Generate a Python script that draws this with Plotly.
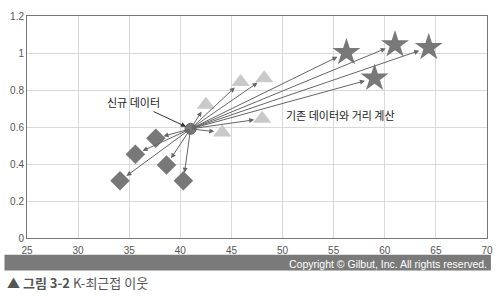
import plotly.graph_objects as go

# Data
new_point = (41.0, 0.59)
diamond_x = [34.1, 35.6, 37.6, 38.65, 40.3]
diamond_y = [0.31, 0.453, 0.539, 0.395, 0.31]
triangle_x = [42.5, 44.1, 45.9, 48.2, 48.0]
triangle_y = [0.72, 0.57, 0.843, 0.864, 0.645]
star_x = [56.25, 61.0, 64.3, 59.0]
star_y = [1.003, 1.045, 1.03, 0.864]
x_ticks = [25, 30, 35, 40, 45, 50, 55, 60, 65, 70]
y_ticks = [0, 0.2, 0.4, 0.6, 0.8, 1.0, 1.2]
y_ticklabels = ["0", "0.2", "0.4", "0.6", "0.8", "1", "1.2"]

W, H = 503, 299
L, R, T, B = 23, 10, 13, 61
PW, PH = W - L - R, H - T - B

def px(x):
    return (x - L) / PW

def py(y):
    return (H - B - y) / PH

fig = go.Figure()

fig.add_trace(go.Scatter(x=diamond_x, y=diamond_y, mode="markers",
                         marker=dict(symbol="diamond", size=15, color="#787878"),
                         showlegend=False, hoverinfo="skip"))
fig.add_trace(go.Scatter(x=triangle_x, y=triangle_y, mode="markers",
                         marker=dict(symbol="triangle-up", size=16, color="#c9c9c9"),
                         showlegend=False, hoverinfo="skip"))
fig.add_trace(go.Scatter(x=star_x, y=star_y, mode="markers",
                         marker=dict(symbol="star", size=21, color="#787878"),
                         showlegend=False, hoverinfo="skip"))
fig.add_trace(go.Scatter(x=[new_point[0]], y=[new_point[1]], mode="markers",
                         marker=dict(symbol="circle", size=11, color="#7a7a7a",
                                     line=dict(color="#666", width=1)),
                         showlegend=False, hoverinfo="skip"))

annotations = []
for xs, ys, so in [(diamond_x, diamond_y, 8), (triangle_x, triangle_y, 8), (star_x, star_y, 10)]:
    for x, y in zip(xs, ys):
        annotations.append(dict(x=x, y=y, xref="x", yref="y",
                                ax=new_point[0], ay=new_point[1], axref="x", ayref="y",
                                showarrow=True, arrowhead=2, arrowsize=1, arrowwidth=1,
                                arrowcolor="#666666", standoff=so, text=""))

annotations.append(dict(x=new_point[0], y=new_point[1], xref="x", yref="y",
                        ax=35.4, ay=0.735, axref="x", ayref="y",
                        text="신규 데이터", showarrow=True, arrowhead=2, arrowsize=1,
                        arrowwidth=1, arrowcolor="#333333", standoff=5,
                        font=dict(family="Noto Sans CJK KR", size=11, color="#222")))
annotations.append(dict(x=px(343), y=py(113), xref="paper", yref="paper",
                        text="기존 데이터와 거리 계산", showarrow=False,
                        xanchor="center", yanchor="middle",
                        font=dict(family="Noto Sans CJK KR", size=11, color="#222")))
annotations.append(dict(x=px(495), y=py(264), xref="paper", yref="paper",
                        text="Copyright © Gilbut, Inc. All rights reserved.",
                        xanchor="right", yanchor="middle", showarrow=False,
                        font=dict(family="Liberation Sans", size=10.5, color="#ffffff")))
annotations.append(dict(x=px(1), y=py(283), xref="paper", yref="paper",
                        text="<b>▲ 그림 3-2</b> K-최근접 이웃",
                        xanchor="left", yanchor="middle", showarrow=False,
                        font=dict(family="Noto Sans CJK KR", size=13, color="#555555")))

shapes = [dict(type="rect", xref="paper", yref="paper",
               x0=px(0), x1=px(497), y0=py(255), y1=py(271),
               fillcolor="#7a7a7a", line=dict(width=0), layer="above")]

fig.update_layout(
    width=W, height=H,
    margin=dict(l=L, r=R, t=T, b=B),
    paper_bgcolor="white", plot_bgcolor="white",
    annotations=annotations, shapes=shapes,
    xaxis=dict(range=[25, 70], tickvals=x_ticks, showgrid=True, gridcolor="#d9d9d9",
               gridwidth=1, zeroline=False, showline=True, linecolor="#777777",
               linewidth=1, mirror=True, ticks="outside", ticklen=3, tickcolor="white",
               tickfont=dict(family="Liberation Sans", size=10, color="#555555")),
    yaxis=dict(range=[0, 1.2], tickvals=y_ticks, ticktext=y_ticklabels, showgrid=True,
               gridcolor="#d9d9d9", gridwidth=1, zeroline=False, showline=True,
               linecolor="#777777", linewidth=1, mirror=True, ticks="",
               tickfont=dict(family="Liberation Sans", size=10, color="#555555")),
)

fig.write_html("out.html")
